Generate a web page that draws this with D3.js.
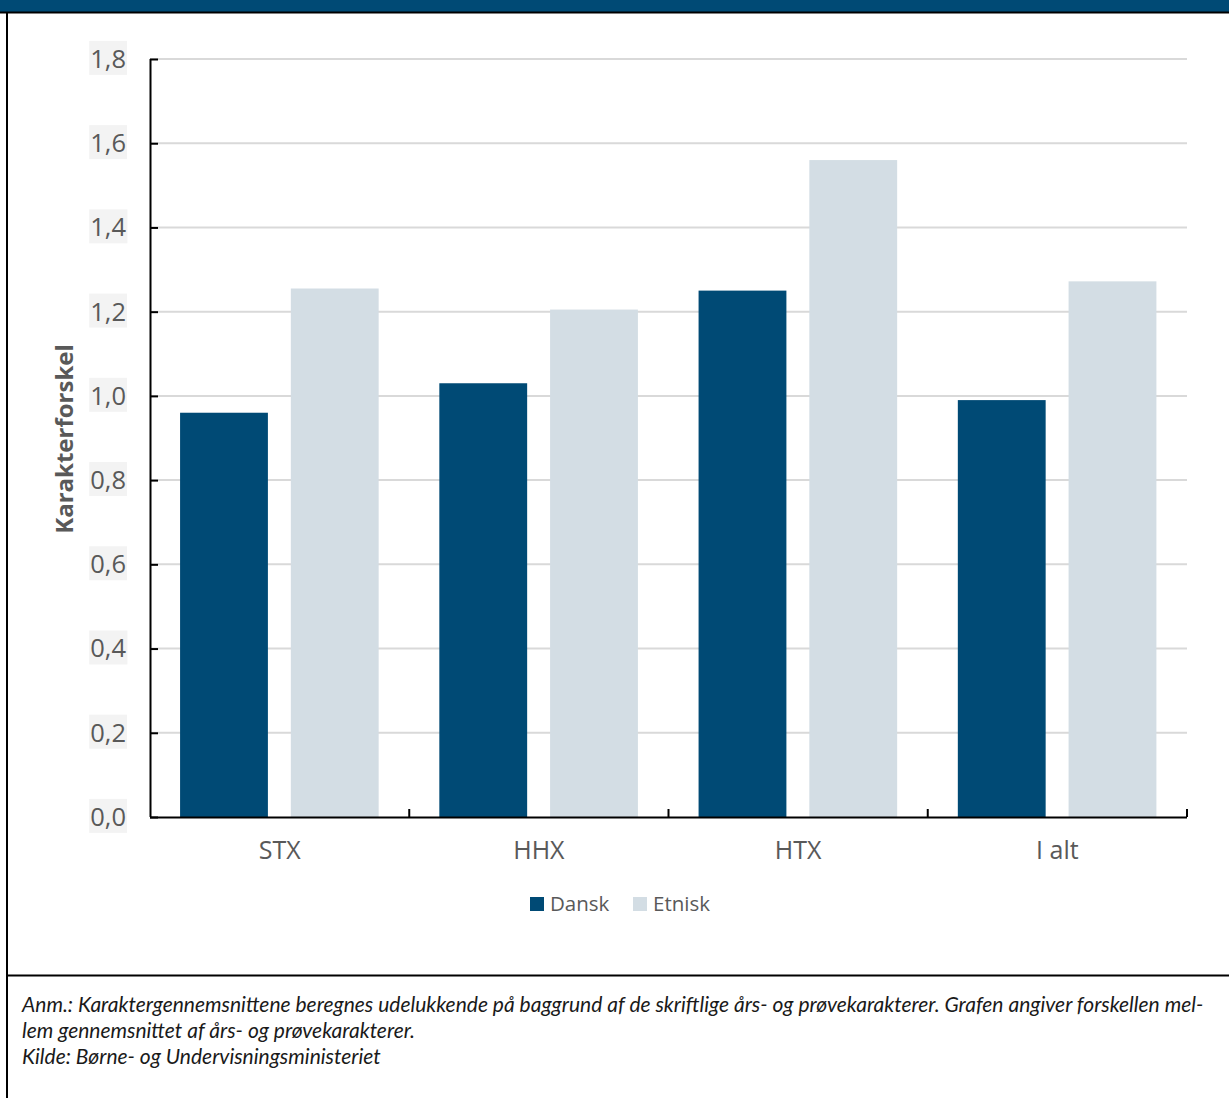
<!DOCTYPE html>
<html>
<head>
<meta charset="utf-8">
<script src="https://cdn.jsdelivr.net/npm/d3@7"></script>
<style>
  html, body { margin: 0; padding: 0; background: #fff; }
  svg { display: block; }
</style>
</head>
<body>
<svg id="chart" width="1229" height="1098"></svg>
<script>
const categories = ["STX", "HHX", "HTX", "I alt"];
const seriesNames = ["Dansk", "Etnisk"];
const dansk = [0.96, 1.03, 1.25, 0.99];
const etnisk = [1.255, 1.205, 1.56, 1.272];
const yTicks = [0, 0.2, 0.4, 0.6, 0.8, 1.0, 1.2, 1.4, 1.6, 1.8];
const yTitle = "Karakterforskel";
const noteLines = [
  "Anm.: Karaktergennemsnittene beregnes udelukkende på baggrund af de skriftlige års- og prøvekarakterer. Grafen angiver forskellen mel-",
  "lem gennemsnittet af års- og prøvekarakterer.",
  "Kilde: Børne- og Undervisningsministeriet"
];
const colors = ["#004a75", "#d3dde4"];

(function () {
const svg = d3.select("#chart");
const W = 1229, H = 1098;

// frame
svg.append("rect").attr("x", 0).attr("y", 0).attr("width", W).attr("height", 12).attr("fill", "#004a75");
svg.append("line").attr("x1", 0).attr("x2", W).attr("y1", 12.5).attr("y2", 12.5).attr("stroke", "#000").attr("stroke-width", 2);
svg.append("line").attr("x1", 7).attr("x2", 7).attr("y1", 12).attr("y2", H).attr("stroke", "#000").attr("stroke-width", 2);
svg.append("line").attr("x1", 7).attr("x2", W).attr("y1", 975.5).attr("y2", 975.5).attr("stroke", "#000").attr("stroke-width", 2);

const pLeft = 150, pRight = 1187, pTop = 59, pBottom = 817;
const x0 = d3.scaleBand().domain(categories).range([pLeft, pRight]).paddingInner(0).paddingOuter(0);
const bw = x0.bandwidth();
const x1 = d3.scaleBand().domain(seriesNames).range([bw * 0.116, bw * 0.882]).paddingInner(0.207).paddingOuter(0);
const y = d3.scaleLinear().domain([0, 1.8]).range([pBottom, pTop]);

const fontSans = "'Open Sans', 'Noto Sans', sans-serif";

// gridlines
svg.append("g").selectAll("line").data(yTicks.filter(d => d > 0)).join("line")
  .attr("x1", pLeft).attr("x2", pRight)
  .attr("y1", d => y(d)).attr("y2", d => y(d))
  .attr("stroke", "#d9d9d9").attr("stroke-width", 2);

// bars
const data = categories.map((c, i) => ({ cat: c, vals: [dansk[i], etnisk[i]] }));
const groups = svg.append("g").selectAll("g").data(data).join("g")
  .attr("transform", d => `translate(${x0(d.cat)},0)`);
groups.selectAll("rect").data(d => d.vals.map((v, j) => ({ name: seriesNames[j], v, j }))).join("rect")
  .attr("x", d => x1(d.name))
  .attr("width", x1.bandwidth())
  .attr("y", d => y(d.v))
  .attr("height", d => y(0) - y(d.v))
  .attr("fill", d => colors[d.j]);

// y axis
const yAxis = svg.append("g").attr("transform", `translate(${pLeft},0)`)
  .call(d3.axisRight(y).tickValues(yTicks).tickSize(8).tickFormat(d => d3.format(".1f")(d).replace(".", ",")));
yAxis.select(".domain").attr("stroke", "#000").attr("stroke-width", 2).attr("d", `M0.5,${pTop}V${pBottom}`);
yAxis.selectAll(".tick line").attr("stroke", "#000").attr("stroke-width", 2);
yAxis.selectAll(".tick text").attr("x", -24).attr("text-anchor", "end")
  .attr("font-family", fontSans).attr("font-size", 25.5).attr("fill", "#595959").attr("dy", "0.33em");
yAxis.selectAll(".tick").each(function () {
  const t = d3.select(this).select("text");
  const bb = t.node().getBBox();
  d3.select(this).insert("rect", "text")
    .attr("x", bb.x - 1).attr("y", bb.y).attr("width", bb.width + 2).attr("height", bb.height)
    .attr("fill", "#f3f3f3");
});

// x axis
const xAxis = svg.append("g").attr("transform", `translate(0,${pBottom})`)
  .call(d3.axisBottom(x0).tickSize(0).tickPadding(24));
xAxis.select(".domain").attr("stroke", "#000").attr("stroke-width", 2).attr("d", `M${pLeft},0.5H${pRight}`);
xAxis.selectAll(".tick text").attr("font-family", fontSans).attr("font-size", 25).attr("fill", "#595959");
// category boundary ticks
const bounds = categories.slice(1).map(c => x0(c)).concat([pRight]);
svg.append("g").selectAll("line").data(bounds).join("line")
  .attr("x1", d => d).attr("x2", d => d)
  .attr("y1", pBottom).attr("y2", pBottom - 8)
  .attr("stroke", "#000").attr("stroke-width", 2);

// y title
svg.append("text").attr("transform", `translate(73,${(pTop + pBottom) / 2 + 1}) rotate(-90)`)
  .attr("text-anchor", "middle").attr("font-family", fontSans).attr("font-weight", "bold")
  .attr("font-size", 24).attr("fill", "#595959").text(yTitle);

// legend
const legendX = [530, 633];
const leg = svg.append("g").selectAll("g").data(seriesNames).join("g")
  .attr("transform", (d, i) => `translate(${legendX[i]},897)`);
leg.append("rect").attr("width", 14).attr("height", 14).attr("fill", (d, i) => colors[i]);
leg.append("text").attr("x", 20).attr("y", 7).attr("dy", "0.35em")
  .attr("font-family", fontSans).attr("font-size", 20.5).attr("fill", "#595959").text(d => d);

// notes
svg.append("g").selectAll("text").data(noteLines).join("text")
  .attr("x", 22).attr("y", (d, i) => 1012 + i * 26)
  .attr("font-family", "Lato, sans-serif").attr("font-style", "italic")
  .attr("font-size", 21).attr("fill", "#1a1a1a").text(d => d);
})();
</script>
</body>
</html>
